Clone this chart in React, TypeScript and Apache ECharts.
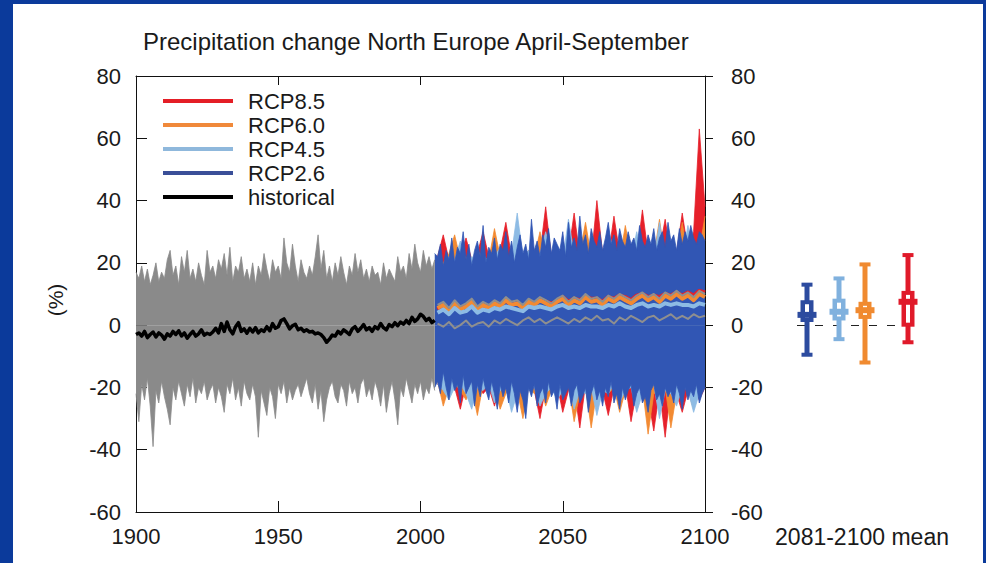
import React, { useEffect, useRef } from "react";
import * as echarts from "echarts";

const FONT = '"Liberation Sans", Arial, Helvetica, sans-serif';
const TEXT = "#1a1a1a";

const TITLE = "Precipitation change North Europe April-September";
const Y_NAME = "(%)";
const MEAN_LABEL = "2081-2100 mean";
const LEGEND_ITEMS = ["RCP8.5", "RCP6.0", "RCP4.5", "RCP2.6", "historical"];

// historical ensemble (1900-2005), yearly
const HIST_START = 1900;
const histUpper = [
  17, 15, 19, 14, 18, 13, 16, 20, 14, 17,
  15, 21, 24, 16, 19, 13, 22, 17, 24, 15,
  18, 14, 20, 16, 13, 24, 17, 19, 15, 21,
  18, 23, 16, 25, 14, 19, 17, 22, 15, 18,
  14, 20, 13, 19, 16, 23, 18, 14, 21, 17,
  19, 15, 28, 20, 17, 26, 19, 14, 21, 17,
  15, 19, 16, 22, 29, 18, 24, 15, 19, 14,
  20, 16, 22, 17, 13, 19, 16, 23, 17, 21,
  15, 18, 14, 19, 16, 17, 13, 20, 15, 18,
  16, 14, 22, 17, 19, 15, 23, 18, 26, 20,
  17, 24, 19, 22, 18, 21,
];
const histLower = [
  -22, -31, -19, -24, -17, -26, -39, -21, -25, -18,
  -23, -27, -32, -20, -24, -18, -22, -26, -19, -23,
  -17, -25, -20, -22, -18, -24, -21, -19, -25, -20,
  -23, -28, -19, -22, -17, -24, -20, -26, -18, -22,
  -24, -19, -23, -36, -21, -25, -29, -20, -23, -30,
  -19, -22, -18, -25, -20, -24, -21, -19, -23, -20,
  -17, -22, -25, -19, -27, -21, -31, -24, -20, -18,
  -23, -25, -19, -21, -26, -18, -22, -20, -25, -19,
  -17, -23, -20, -24, -18, -21, -26, -19, -28, -22,
  -18, -24, -32, -20, -23, -17, -21, -25, -19, -22,
  -18, -24, -20, -22, -17, -21,
];
const histMean = [
  -3.0, -2.5, -3.5, -2.0, -4.0, -3.0, -2.2, -3.8, -2.5, -3.2,
  -4.5, -2.8, -3.5, -2.0, -3.0, -1.8, -3.5, -2.5, -4.2, -3.0,
  -2.0, -3.5, -2.8, -1.5, -3.2, -2.6, -3.0, -2.2, -1.0, -2.5,
  0.5, -2.0, 1.0, -1.5, -2.8, -0.5, 0.8, -2.0, -1.2, -2.6,
  -1.0, -2.2, -0.8, -2.5, -1.5, -2.0, -0.5, -1.8, 0.5, -1.0,
  -0.5, 1.5, 2.0, 0.5, -1.2, -0.2, 0.3, -1.5, -1.0, -2.0,
  -1.5, -2.2, -2.0, -2.8, -2.5, -3.0, -4.0, -5.5, -4.5, -3.2,
  -3.5, -2.0, -2.8, -1.5, -2.2, -3.0, -1.2, -0.5, -2.0, -1.0,
  0.2, -1.5, -0.8, -2.0, -0.5, -1.2, 0.5, -0.8, -1.5, 0.2,
  -0.5, 0.8, -0.2, 1.0, 0.3, 1.5, 0.5, 2.5, 1.2, 2.0,
  3.5, 2.8, 1.5, 2.2, 0.8, 1.5,
];

// RCP2.6 ensemble envelope (2005-2100), yearly
const BLUE_START = 2005;
const rcp26Upper = [
  23, 22, 26, 19, 24,
  21, 28, 20, 25, 23, 30, 21, 26, 19, 24,
  27, 22, 32, 20, 25, 23, 28, 21, 26, 24,
  30, 22, 27, 20, 25, 29, 23, 26, 21, 34,
  24, 27, 22, 29, 25, 31, 23, 28, 26, 24,
  30, 22, 33, 25, 28, 24, 35, 26, 29, 23,
  31, 27, 25, 30, 24, 28, 33, 26, 29, 24,
  31, 27, 25, 30, 26, 28, 24, 32, 27, 25,
  29, 26, 31, 24, 28, 30, 25, 33, 27, 29,
  24, 31, 26, 30, 27, 32, 28, 26, 30, 29,
  27,
];
const rcp26Lower = [
  -20, -18, -22, -15, -20,
  -24, -17, -21, -19, -25, -16, -22, -20, -18, -26,
  -19, -23, -17, -21, -24, -18, -22, -27, -19, -23,
  -20, -25, -18, -22, -28, -21, -24, -30, -20, -23,
  -19, -26, -22, -20, -25, -18, -23, -21, -27, -19,
  -24, -22, -20, -26, -21, -19, -25, -23, -20, -28,
  -22, -19, -24, -21, -26, -20, -23, -18, -25, -22,
  -27, -20, -24, -21, -19, -26, -22, -20, -25, -23,
  -28, -21, -19, -24, -22, -26, -20, -23, -21, -25,
  -19, -22, -27, -20, -24, -21, -23, -19, -25, -22,
  -20,
];

// other scenario envelopes and means (2006-2100, every 2 years)
const SCEN_START = 2006;
const SCEN_STEP = 2;
const rcp45Upper = [
  20, 19, 22, 21, 27, 20, 22, 21, 23, 20,
  22, 25, 21, 23, 36, 22, 24, 21, 23, 30,
  22, 24, 21, 34, 23, 22, 25, 21, 24, 22,
  31, 23, 22, 24, 21, 30, 22, 24, 21, 33,
  22, 24, 23, 21, 32, 22, 24, 23,
];
const rcp45Lower = [
  -19, -21, -24, -20, -19, -22, -27, -20, -21, -19,
  -25, -21, -20, -28, -22, -19, -21, -20, -26, -22,
  -20, -24, -21, -19, -27, -21, -22, -20, -29, -21,
  -22, -19, -25, -21, -20, -28, -22, -21, -19, -30,
  -21, -22, -26, -20, -21, -28, -22, -20,
];
const rcp60Upper = [
  21, 20, 23, 29, 21, 22, 20, 24, 22, 21,
  31, 22, 20, 23, 22, 21, 24, 22, 30, 21,
  23, 22, 24, 21, 22, 23, 33, 22, 21, 24,
  22, 23, 21, 32, 22, 24, 21, 23, 22, 34,
  21, 23, 22, 33, 22, 21, 24, 35,
];
const rcp60Lower = [
  -18, -26, -20, -19, -21, -24, -20, -29, -19, -21,
  -20, -27, -22, -19, -21, -30, -20, -22, -19, -26,
  -21, -20, -23, -19, -31, -22, -20, -33, -21, -19,
  -22, -20, -28, -21, -19, -23, -20, -35, -22, -21,
  -20, -33, -22, -19, -21, -27, -20, -19,
];
const rcp85Upper = [
  22, 29, 21, 23, 22, 28, 21, 23, 30, 22,
  21, 24, 33, 22, 23, 21, 24, 22, 23, 38,
  22, 24, 21, 23, 36, 22, 24, 21, 40, 23,
  22, 35, 23, 21, 24, 22, 37, 23, 22, 24,
  34, 22, 23, 36, 24, 30, 63, 38,
];
const rcp85Lower = [
  -19, -21, -18, -20, -27, -19, -21, -18, -22, -20,
  -26, -19, -21, -18, -20, -23, -19, -21, -30, -20,
  -22, -19, -28, -21, -20, -33, -19, -22, -20, -21,
  -29, -20, -22, -19, -31, -21, -20, -23, -34, -21,
  -36, -20, -22, -28, -21, -19, -24, -20,
];
const meanHigh = [
  6.5, 7.5, 5.5, 8.0, 6.0, 7.0, 8.5, 6.0, 7.5, 6.5,
  8.0, 7.0, 9.0, 7.5, 8.0, 6.5, 8.5, 7.5, 9.0, 8.0,
  7.0, 8.5, 9.5, 7.5, 9.0, 8.0, 10.0, 8.5, 9.0, 7.5,
  9.5, 8.5, 10.0, 9.0, 8.0, 9.5, 10.5, 9.0, 10.0, 8.5,
  10.5, 9.5, 11.0, 9.5, 10.5, 9.0, 11.0, 10.0,
];
const meanLow = [
  0.5, -0.5, 1.0, -1.0, 0.0, 1.5, -0.5, 0.5, 1.0, -0.5,
  1.5, 0.5, 2.0, 1.0, 0.0, 1.5, 2.5, 1.0, 2.0, 0.5,
  1.5, 2.5, 1.5, 0.5, 2.0, 1.0, 2.5, 1.5, 3.0, 1.5,
  2.0, 0.5, 2.5, 1.5, 3.0, 2.0, 1.0, 2.5, 3.0, 1.5,
  2.5, 3.5, 2.0, 3.0, 2.0, 3.5, 2.5, 3.0,
];
const rcp85Mean = [
  5.0, 6.5, 4.5, 7.0, 5.5, 6.0, 7.5, 5.5, 6.5, 6.0,
  7.0, 6.5, 8.0, 6.5, 7.0, 6.0, 7.5, 7.0, 8.0, 7.5,
  7.0, 7.5, 9.0, 7.5, 8.5, 8.0, 9.0, 8.5, 8.5, 7.5,
  9.0, 8.5, 9.5, 9.0, 8.0, 9.5, 10.0, 9.0, 9.5, 9.0,
  10.0, 9.5, 10.5, 9.5, 10.5, 9.5, 11.0, 10.5,
];
const rcp60Mean = [
  5.5, 6.5, 4.0, 7.0, 5.0, 6.0, 7.5, 5.0, 6.5, 5.5,
  7.0, 6.0, 8.0, 6.5, 7.0, 5.5, 7.5, 6.5, 8.0, 7.0,
  6.0, 7.5, 8.5, 6.5, 8.0, 7.0, 9.0, 7.5, 8.0, 6.5,
  8.5, 7.5, 9.0, 8.0, 7.0, 8.5, 9.5, 8.0, 9.0, 7.5,
  9.5, 8.5, 10.0, 8.5, 9.5, 8.0, 10.0, 9.0,
];
const rcp45Mean = [
  4.0, 5.0, 3.5, 5.5, 4.0, 4.5, 6.0, 4.0, 5.0, 4.5,
  5.5, 5.0, 6.0, 5.5, 5.0, 4.5, 6.0, 5.5, 6.0, 5.5,
  5.0, 6.0, 6.5, 5.5, 6.0, 5.5, 6.5, 6.0, 6.0, 5.5,
  6.5, 6.0, 7.0, 6.0, 5.5, 6.5, 7.0, 6.0, 6.5, 6.0,
  7.0, 6.5, 7.0, 6.5, 6.5, 6.0, 7.0, 6.5,
];

// 2081-2100 mean change: RCP2.6, RCP4.5, RCP6.0, RCP8.5
const boxMin = [-9.5, -4.5, -12, -5.5];
const boxP25 = [1, 1.5, 2, -0.5];
const boxMedian = [3.3, 4.3, 4.8, 7.5];
const boxP75 = [8, 8.5, 7.5, 11];
const boxMax = [13, 15, 19.5, 22.5];

// layout / style constants
const GLYPH_X = [10, 42, 68, 111];
const C85 = "#e6202a";
const C60 = "#f28a32";
const C45 = "#8dbbe4";
const C26 = "#3156b4";
const CHIST = "#8a8a8a";
const GLYPH_COLORS = ["#2c4b9f", "#80b1de", "#f08a30", "#e01a2a"];

const pairs = (start: number, step: number, vals: number[]) =>
  vals.map((v, i) => [start + i * step, v]);

function band(name: string, color: string, data: number[][], z: number) {
  return {
    type: "line",
    name,
    data,
    xAxisIndex: 0,
    yAxisIndex: 0,
    symbol: "none",
    silent: true,
    z,
    lineStyle: { color, width: 0.8 },
    itemStyle: { color },
    areaStyle: { color, opacity: 1 },
  };
}

function meanLine(name: string, color: string, data: number[][], width: number, z: number) {
  return {
    type: "line",
    name,
    data,
    xAxisIndex: 0,
    yAxisIndex: 0,
    symbol: "none",
    silent: true,
    z,
    lineStyle: { color, width, join: "round" },
    itemStyle: { color },
  };
}

export default function App() {
  const ref = useRef<HTMLDivElement>(null);

  useEffect(() => {
    if (!ref.current) return;
    const chart = echarts.init(ref.current, undefined, { renderer: "svg" });

    const axisText = { fontFamily: FONT, fontSize: 22, color: TEXT };
    const black = { color: "#111", width: 1 };

    const option: any = {
      animation: false,
      backgroundColor: "transparent",
      textStyle: { fontFamily: FONT },
      title: {
        text: TITLE,
        left: 143,
        top: 29,
        padding: 0,
        textStyle: { fontFamily: FONT, fontSize: 24, fontWeight: "normal", color: TEXT },
      },
      legend: {
        left: 163,
        top: 90,
        orient: "vertical",
        selectedMode: false,
        icon: "rect",
        itemWidth: 70,
        itemHeight: 4,
        itemGap: 2,
        padding: 0,
        textStyle: { fontFamily: FONT, fontSize: 22, color: TEXT, padding: [0, 0, 0, 10], lineHeight: 22 },
        data: [
          { name: LEGEND_ITEMS[0], itemStyle: { color: "#e41e26" } },
          { name: LEGEND_ITEMS[1], itemStyle: { color: "#f0893a" } },
          { name: LEGEND_ITEMS[2], itemStyle: { color: "#8fb8dc" } },
          { name: LEGEND_ITEMS[3], itemStyle: { color: "#3a4f98" } },
          { name: LEGEND_ITEMS[4], itemStyle: { color: "#000" } },
        ],
      },
      graphic: [
        {
          type: "text",
          x: 55,
          y: 300,
          rotation: Math.PI / 2,
          style: { text: Y_NAME, fontFamily: FONT, fontSize: 21, fill: TEXT, textAlign: "center", textVerticalAlign: "middle" },
        },
        {
          type: "text",
          x: 862,
          y: 537,
          style: { text: MEAN_LABEL, fontFamily: FONT, fontSize: 23, fill: TEXT, textAlign: "center", textVerticalAlign: "middle" },
        },
      ],
      grid: [
        { left: 136, right: 281, top: 76, bottom: 51, containLabel: false },
        { left: 797, right: 64, top: 76, bottom: 51, containLabel: false },
      ],
      xAxis: [
        {
          type: "value", gridIndex: 0, min: 1900, max: 2100, interval: 50, position: "bottom",
          axisLine: { show: true, onZero: false, lineStyle: black },
          axisTick: { show: true, inside: true, length: 11, lineStyle: black },
          axisLabel: { ...axisText, margin: 13, showMinLabel: true, showMaxLabel: true, formatter: (v: number) => String(v) },
          splitLine: { show: false },
        },
        {
          type: "value", gridIndex: 0, min: 1900, max: 2100, interval: 50, position: "top",
          axisLine: { show: true, onZero: false, lineStyle: black },
          axisTick: { show: true, inside: true, length: 9, lineStyle: black },
          axisLabel: { show: false },
          splitLine: { show: false },
        },
        {
          type: "value", gridIndex: 1, min: 0, max: 125, show: false,
        },
      ],
      yAxis: [
        {
          type: "value", gridIndex: 0, min: -60, max: 80, interval: 20, position: "left",
          axisLine: { show: true, onZero: false, lineStyle: black },
          axisTick: { show: true, inside: true, length: 11, lineStyle: black },
          axisLabel: { ...axisText, margin: 15 },
          splitLine: { show: false },
        },
        {
          type: "value", gridIndex: 0, min: -60, max: 80, interval: 20, position: "right",
          axisLine: { show: true, onZero: false, lineStyle: black },
          axisTick: { show: true, inside: false, length: 8, lineStyle: black },
          axisLabel: { ...axisText, margin: 26 },
          splitLine: { show: false },
        },
        {
          type: "value", gridIndex: 1, min: -60, max: 80, show: false,
        },
      ],
      series: [
        band("RCP8.5", C85, pairs(SCEN_START, SCEN_STEP, rcp85Upper), 2),
        band("RCP8.5", C85, pairs(SCEN_START, SCEN_STEP, rcp85Lower), 2),
        band("RCP6.0", C60, pairs(SCEN_START, SCEN_STEP, rcp60Upper), 3),
        band("RCP6.0", C60, pairs(SCEN_START, SCEN_STEP, rcp60Lower), 3),
        band("RCP4.5", C45, pairs(SCEN_START, SCEN_STEP, rcp45Upper), 4),
        band("RCP4.5", C45, pairs(SCEN_START, SCEN_STEP, rcp45Lower), 4),
        band("RCP2.6", C26, pairs(BLUE_START, 1, rcp26Upper), 5),
        band("RCP2.6", C26, pairs(BLUE_START, 1, rcp26Lower), 5),
        band("historical", CHIST, pairs(HIST_START, 1, histUpper), 5),
        band("historical", CHIST, pairs(HIST_START, 1, histLower), 5),
        meanLine("RCP8.5", C85, pairs(SCEN_START, SCEN_STEP, rcp85Mean), 4, 6),
        meanLine("RCP6.0", C60, pairs(SCEN_START, SCEN_STEP, rcp60Mean), 4, 7),
        meanLine("RCP4.5", C45, pairs(SCEN_START, SCEN_STEP, rcp45Mean), 4, 8),
        meanLine("ensemble mean high", "#8f8f8f", pairs(SCEN_START, SCEN_STEP, meanHigh), 2, 9),
        meanLine("ensemble mean low", "#8f8f8f", pairs(SCEN_START, SCEN_STEP, meanLow), 2, 9),
        meanLine("historical", "#000", pairs(HIST_START, 1, histMean), 3.5, 10),
        {
          type: "custom",
          name: "2081-2100",
          xAxisIndex: 2,
          yAxisIndex: 2,
          silent: true,
          z: 5,
          data: GLYPH_X.map((x, i) => [x, boxMin[i], boxP25[i], boxMedian[i], boxP75[i], boxMax[i]]),
          encode: { x: 0, y: [1, 2, 3, 4, 5] },
          renderItem: (params: any, api: any) => {
            const cx = api.coord([api.value(0), 0])[0];
            const y = (v: number) => api.coord([0, v])[1];
            const col = GLYPH_COLORS[params.dataIndex];
            const yMin = y(api.value(1));
            const yP25 = y(api.value(2));
            const yMed = y(api.value(3));
            const yP75 = y(api.value(4));
            const yMax = y(api.value(5));
            const W = 5, CAP_W = 11, CAP_H = 4, BOX_W = 13, SLOT_W = 4, BAR_W = 19, BAR_H = 6;
            return {
              type: "group",
              children: [
                { type: "rect", shape: { x: cx - W / 2, y: yMax, width: W, height: yMin - yMax }, style: { fill: col } },
                { type: "rect", shape: { x: cx - CAP_W / 2, y: yMax - CAP_H / 2, width: CAP_W, height: CAP_H }, style: { fill: col } },
                { type: "rect", shape: { x: cx - CAP_W / 2, y: yMin - CAP_H / 2, width: CAP_W, height: CAP_H }, style: { fill: col } },
                { type: "rect", shape: { x: cx - BOX_W / 2, y: yP75, width: BOX_W, height: yP25 - yP75 }, style: { fill: col } },
                { type: "rect", shape: { x: cx - SLOT_W / 2, y: yP75 + 4, width: SLOT_W, height: Math.max(0, yP25 - yP75 - 8) }, style: { fill: "#fff" } },
                { type: "rect", shape: { x: cx - BAR_W / 2, y: yMed - BAR_H / 2, width: BAR_W, height: BAR_H }, style: { fill: col } },
              ],
            };
          },
          markLine: {
            silent: true,
            symbol: "none",
            label: { show: false },
            lineStyle: { color: "#222", width: 1.2, type: [8, 10] },
            data: [{ yAxis: 0 }],
            z: 1,
          },
        },
      ],
    };

    chart.setOption(option);
    return () => chart.dispose();
  }, []);

  return (
    <div style={{ position: "fixed", left: 0, top: 0, width: 986, height: 563, background: "#0b3a9b" }}>
      <div style={{ position: "absolute", left: 13, top: 4, width: 970, height: 559, background: "#ffffff" }} />
      <div ref={ref} style={{ position: "absolute", left: 0, top: 0, width: 986, height: 563 }} />
    </div>
  );
}
